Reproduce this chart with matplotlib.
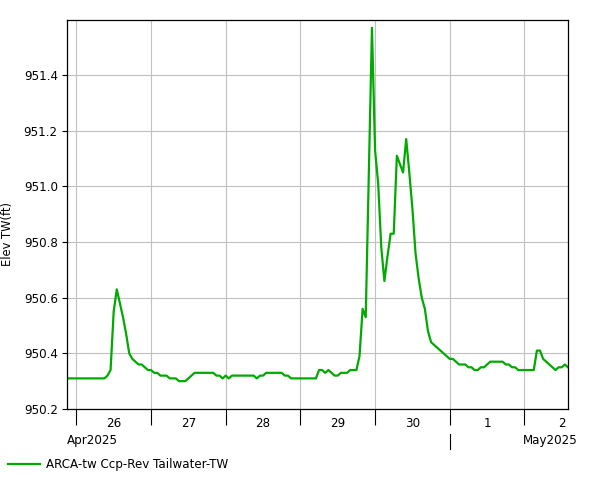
import numpy as np
import pandas as pd
import matplotlib
matplotlib.use("Agg")
import matplotlib.pyplot as plt
import matplotlib.dates as mdates
from matplotlib.ticker import FuncFormatter, FormatStrFormatter

# hourly tailwater elevation readings, starting Apr 25 21:00
start_time = "2025-04-25 21:00"
elev = [
    950.31, 950.31, 950.31, 950.31, 950.31, 950.31, 950.31, 950.31, 950.31, 950.31,
    950.31, 950.31, 950.31, 950.32, 950.34, 950.55, 950.63, 950.58, 950.53, 950.47,
    950.40, 950.38, 950.37, 950.36, 950.36, 950.35, 950.34, 950.34, 950.33, 950.33,
    950.32, 950.32, 950.32, 950.31, 950.31, 950.31, 950.30, 950.30, 950.30, 950.31,
    950.32, 950.33, 950.33, 950.33, 950.33, 950.33, 950.33, 950.33, 950.32, 950.32,
    950.31, 950.32, 950.31, 950.32, 950.32, 950.32, 950.32, 950.32, 950.32, 950.32,
    950.32, 950.31, 950.32, 950.32, 950.33, 950.33, 950.33, 950.33, 950.33, 950.33,
    950.32, 950.32, 950.31, 950.31, 950.31, 950.31, 950.31, 950.31, 950.31, 950.31,
    950.31, 950.34, 950.34, 950.33, 950.34, 950.33, 950.32, 950.32, 950.33, 950.33,
    950.33, 950.34, 950.34, 950.34, 950.39, 950.56, 950.53, 951.05, 951.57, 951.13,
    951.01, 950.78, 950.66, 950.75, 950.83, 950.83, 951.11, 951.08, 951.05, 951.17,
    951.05, 950.92, 950.76, 950.67, 950.60, 950.56, 950.48, 950.44, 950.43, 950.42,
    950.41, 950.40, 950.39, 950.38, 950.38, 950.37, 950.36, 950.36, 950.36, 950.35,
    950.35, 950.34, 950.34, 950.35, 950.35, 950.36, 950.37, 950.37, 950.37, 950.37,
    950.37, 950.36, 950.36, 950.35, 950.35, 950.34, 950.34, 950.34, 950.34, 950.34,
    950.34, 950.41, 950.41, 950.38, 950.37, 950.36, 950.35, 950.34, 950.35, 950.35,
    950.36, 950.35,
]
series_name = "ARCA-tw Ccp-Rev Tailwater-TW"
y_label = "Elev TW(ft)"
y_ticks = [950.2, 950.4, 950.6, 950.8, 951.0, 951.2, 951.4]
month_labels = ["Apr2025", "May2025"]

times = pd.date_range(start_time, periods=len(elev), freq="h")

W, H = 601, 480
fs = 8.6
plt.rcParams["font.family"] = "DejaVu Sans"

fig = plt.figure(figsize=(W / 100, H / 100), dpi=100)
ax = fig.add_axes([67 / W, 1 - 409 / H, (568 - 67) / W, (409 - 20) / H])

line, = ax.plot(times, elev, color="#00aa00", lw=1.6, label=series_name)

ax.set_xlim(pd.Timestamp("2025-04-25 21:00"), pd.Timestamp("2025-05-02 14:00"))
ax.set_ylim(950.2, 951.598)

# grid
ax.set_yticks(y_ticks)
ax.yaxis.set_major_formatter(FormatStrFormatter("%.1f"))
ax.xaxis.set_major_locator(mdates.DayLocator())
ax.xaxis.set_major_formatter(FuncFormatter(lambda v, p: ""))
ax.xaxis.set_minor_locator(mdates.HourLocator(byhour=[12]))
ax.xaxis.set_minor_formatter(FuncFormatter(lambda v, p: str(mdates.num2date(v).day)))
ax.grid(True, which="major", color="#c0c0c0", lw=0.8)
ax.set_axisbelow(True)

ax.tick_params(axis="y", length=3.6, width=0.8, pad=3, labelsize=fs)
ax.tick_params(axis="x", which="major", length=11.5, width=0.8, direction="out")
ax.tick_params(axis="x", which="minor", length=0, pad=6, labelsize=fs)
for s in ax.spines.values():
    s.set_linewidth(0.9)

fig.text(7.2 / W, 1 - 234 / H, y_label, rotation=90, ha="center", va="center", fontsize=fs - 0.3)

# month labels under the day labels
fig.text(66.5 / W, 1 - 440.5 / H, month_labels[0], ha="left", va="center", fontsize=fs)
fig.text(522.5 / W, 1 - 440.5 / H, month_labels[1], ha="left", va="center", fontsize=fs)
sep = ax.get_xaxis_transform()
ax.plot([pd.Timestamp("2025-05-01")] * 2, [-25 / 389, -40 / 389], color="black",
        lw=0.8, transform=sep, clip_on=False)

fig.legend(handles=[line], loc="center left", bbox_to_anchor=(7.5 / W, 1 - 464.5 / H),
           frameon=False, fontsize=fs, handlelength=2.7, handletextpad=0.55,
           borderpad=0, borderaxespad=0)

fig.savefig("out.png", dpi=100)
